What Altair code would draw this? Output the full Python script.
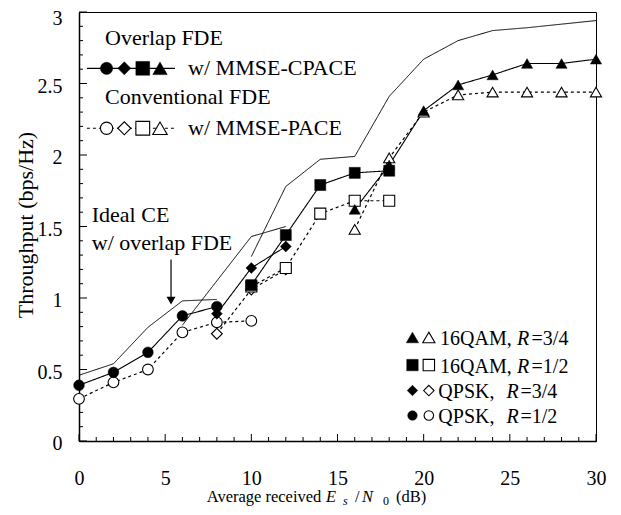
import altair as alt
import pandas as pd

FONT = "Liberation Serif"

# ---------------- data ----------------
MODS = ["QPSK 1/2", "QPSK 3/4", "16QAM 1/2", "16QAM 3/4"]
SHAPES = ["circle", "diamond", "square", "triangle-up"]

# Overlap FDE w/ MMSE-CPACE (filled markers, solid line)
OV_QPSK12_X = [0, 2, 4, 6, 8]
OV_QPSK12_Y = [0.39, 0.48, 0.62, 0.875, 0.94]
OV_QPSK34_X = [8, 10, 12]
OV_QPSK34_Y = [0.89, 1.21, 1.36]
OV_16Q12_X = [10, 12, 14, 16, 18]
OV_16Q12_Y = [1.09, 1.44, 1.79, 1.875, 1.89]
OV_16Q34_X = [16, 18, 20, 22, 24, 26, 28, 30]
OV_16Q34_Y = [1.62, 1.93, 2.31, 2.49, 2.56, 2.64, 2.64, 2.67]

# Conventional FDE w/ MMSE-PACE (open markers, dotted line)
CV_QPSK12_X = [0, 2, 4, 6, 8, 10]
CV_QPSK12_Y = [0.295, 0.41, 0.50, 0.76, 0.83, 0.84]
CV_QPSK34_X = [8, 10, 12]
CV_QPSK34_Y = [0.75, 1.06, 1.20]
CV_16Q12_X = [10, 12, 14, 16, 18]
CV_16Q12_Y = [1.08, 1.21, 1.59, 1.68, 1.68]
CV_16Q34_X = [16, 18, 20, 22, 24, 26, 28, 30]
CV_16Q34_Y = [1.48, 1.98, 2.30, 2.42, 2.44, 2.44, 2.44, 2.44]

# Ideal CE w/ overlap FDE (plain solid lines)
ID_QPSK12_X = [0, 2, 4, 6, 8]
ID_QPSK12_Y = [0.46, 0.54, 0.795, 0.98, 0.99]
ID_QPSK34_X = [6, 8, 10, 12]
ID_QPSK34_Y = [0.81, 1.12, 1.43, 1.50]
ID_16Q12_X = [10, 12, 14, 16]
ID_16Q12_Y = [1.29, 1.78, 1.97, 1.99]
ID_16Q34_X = [16, 18, 20, 22, 24, 26, 28, 30]
ID_16Q34_Y = [1.99, 2.41, 2.67, 2.80, 2.87, 2.89, 2.915, 2.94]

# axis ticks
X_MAJOR = [0, 5, 10, 15, 20, 25, 30]
X_MINOR = [1, 2, 3, 4, 6, 7, 8, 9, 11, 12, 13, 14, 16, 17, 18, 19,
           21, 22, 23, 24, 26, 27, 28, 29]
Y_MAJOR = [0, 0.5, 1, 1.5, 2, 2.5, 3]
Y_MINOR = [0.1, 0.2, 0.3, 0.4, 0.6, 0.7, 0.8, 0.9, 1.1, 1.2, 1.3, 1.4,
           1.6, 1.7, 1.8, 1.9, 2.1, 2.2, 2.3, 2.4, 2.6, 2.7, 2.8, 2.9]

# in-plot legend (top left)
LEG_TOP_LINE_X = [0.46, 5.57]
LEG_TOP_MARK_X = [1.6, 2.63, 3.70, 4.70]
LEG_TOP_ROW_Y = [2.606, 2.187]          # filled row, open row
# bottom-right legend
BR_MODS = ["16QAM 3/4", "16QAM 1/2", "QPSK 3/4", "QPSK 1/2"]
BR_MARK_Y = [0.724, 0.531, 0.353, 0.178]
BR_TEXT_Y = [0.671, 0.478, 0.300, 0.126]
BR_FILLED_X = 19.35
BR_OPEN_X = 20.3
BR_LABEL_A = ["16QAM, ", "16QAM, ", "QPSK, ", "QPSK, "]
BR_LABEL_A_X = [20.95, 20.95, 20.85, 20.85]
BR_LABEL_R_X = [25.41, 25.41, 24.8, 24.8]
BR_LABEL_B = ["=3/4", "=1/2", "=3/4", "=1/2"]
BR_LABEL_B_X = [26.26, 26.26, 25.62, 25.62]

# annotations (top-left text)
ANN_TEXT = ["Overlap FDE", "w/ MMSE-CPACE", "Conventional FDE", "w/ MMSE-PACE",
            "Ideal CE", "w/ overlap FDE"]
ANN_X = [1.51, 6.33, 1.51, 6.33, 0.74, 0.74]
ANN_Y = [2.77, 2.56, 2.36, 2.14, 1.53, 1.336]
ARROW_X = 5.34
ARROW_Y_TOP = 1.27
ARROW_Y_TIP = 0.985

# ---------------- build tables ----------------
SERIES = [
    ("overlap", "QPSK 1/2", OV_QPSK12_X, OV_QPSK12_Y),
    ("overlap", "QPSK 3/4", OV_QPSK34_X, OV_QPSK34_Y),
    ("overlap", "16QAM 1/2", OV_16Q12_X, OV_16Q12_Y),
    ("overlap", "16QAM 3/4", OV_16Q34_X, OV_16Q34_Y),
    ("conv", "QPSK 1/2", CV_QPSK12_X, CV_QPSK12_Y),
    ("conv", "QPSK 3/4", CV_QPSK34_X, CV_QPSK34_Y),
    ("conv", "16QAM 1/2", CV_16Q12_X, CV_16Q12_Y),
    ("conv", "16QAM 3/4", CV_16Q34_X, CV_16Q34_Y),
    ("ideal", "QPSK 1/2", ID_QPSK12_X, ID_QPSK12_Y),
    ("ideal", "QPSK 3/4", ID_QPSK34_X, ID_QPSK34_Y),
    ("ideal", "16QAM 1/2", ID_16Q12_X, ID_16Q12_Y),
    ("ideal", "16QAM 3/4", ID_16Q34_X, ID_16Q34_Y),
]
rows = []
for scheme, mod, xs, ys in SERIES:
    for xv, yv in zip(xs, ys):
        rows.append({"scheme": scheme, "mod": mod, "key": scheme + "|" + mod, "x": xv, "y": yv})
df = pd.DataFrame(rows)

XS = alt.Scale(domain=[0, 30], nice=False, zero=False)
YS = alt.Scale(domain=[0, 3], nice=False, zero=False)

X_AXIS = alt.Axis(values=X_MAJOR, title=None, ticks=False, tickSize=0, grid=False,
                  domain=True, domainColor="black", domainWidth=1.5,
                  labelFont=FONT, labelFontSize=20, labelColor="black",
                  labelPadding=27, labelFlush=False, labelOverlap=False)
Y_AXIS = alt.Axis(values=Y_MAJOR, title=None, ticks=False, tickSize=0, grid=False,
                  domain=True, domainColor="black", domainWidth=1.5,
                  labelFont=FONT, labelFontSize=20, labelColor="black",
                  labelPadding=17, labelFlush=False, labelOverlap=False,
                  labelExpr="'' + datum.value",
                  labelOffset={"condition": {"test": "datum.value >= 3", "value": 6}, "value": 2.5})

shape_enc = alt.Shape("mod:N", scale=alt.Scale(domain=MODS, range=SHAPES), legend=None)
DASH = alt.Scale(domain=["ideal", "overlap", "conv"], range=[[1, 0], [1, 0], [3, 3]])
WIDTH = alt.Scale(domain=["ideal", "overlap", "conv"], range=[1.0, 1.2, 1.6])


def X(f="x"):
    return alt.X(f + ":Q", scale=XS, axis=X_AXIS)


def Y(f="y"):
    return alt.Y(f + ":Q", scale=YS, axis=Y_AXIS)


lines = alt.Chart(df).mark_line(color="black").encode(
    x=X(), y=Y(), detail="key:N",
    strokeDash=alt.StrokeDash("scheme:N", scale=DASH, legend=None),
    strokeWidth=alt.StrokeWidth("scheme:N", scale=WIDTH, legend=None),
)

size_data = alt.Size("mod:N", scale=alt.Scale(domain=MODS, range=[115, 125, 95, 130]), legend=None)

pts_open = alt.Chart(df[df.scheme == "conv"]).mark_point(
    filled=True, fill="white", stroke="black", strokeWidth=1.1, opacity=1
).encode(x=X(), y=Y(), shape=shape_enc, size=size_data)

pts_fill = alt.Chart(df[df.scheme == "overlap"]).mark_point(
    filled=True, fill="black", stroke="black", strokeWidth=0.5, opacity=1
).encode(x=X(), y=Y(), shape=shape_enc, size=size_data)


# ---- ticks (inward) ----
def xticks(vals, length):
    return alt.Chart(pd.DataFrame({"x": vals})).mark_rule(color="black", strokeWidth=1).encode(
        x=X(), y=alt.value(429), y2=alt.value(429 - length))


def yticks(vals, length):
    return alt.Chart(pd.DataFrame({"y": vals})).mark_rule(color="black", strokeWidth=1).encode(
        y=Y(), x=alt.value(0), x2=alt.value(length))


# ---- top-left legend ----
leg_lines = alt.Chart(pd.DataFrame({
    "x": LEG_TOP_LINE_X * 2,
    "y": [LEG_TOP_ROW_Y[0]] * 2 + [LEG_TOP_ROW_Y[1]] * 2,
    "scheme": ["overlap"] * 2 + ["conv"] * 2,
})).mark_line(color="black").encode(
    x=X(), y=Y(), detail="scheme:N",
    strokeDash=alt.StrokeDash("scheme:N", scale=DASH, legend=None),
    strokeWidth=alt.StrokeWidth("scheme:N", scale=WIDTH, legend=None),
)
size_leg = alt.Size("mod:N", scale=alt.Scale(domain=MODS, range=[150, 210, 110, 160]), legend=None)
leg_fill = alt.Chart(pd.DataFrame({"x": LEG_TOP_MARK_X, "y": [LEG_TOP_ROW_Y[0]] * 4, "mod": MODS})).mark_point(
    filled=True, fill="black", stroke="black", strokeWidth=0.5, opacity=1
).encode(x=X(), y=Y(), shape=shape_enc, size=size_leg)
leg_open = alt.Chart(pd.DataFrame({"x": LEG_TOP_MARK_X, "y": [LEG_TOP_ROW_Y[1]] * 4, "mod": MODS})).mark_point(
    filled=True, fill="white", stroke="black", strokeWidth=1.1, opacity=1
).encode(x=X(), y=Y(), shape=shape_enc, size=size_leg)

# ---- bottom-right legend ----
size_br = alt.Size("mod:N", scale=alt.Scale(domain=MODS, range=[90, 150, 100, 140]), legend=None)
br_df = pd.DataFrame({"mod": BR_MODS, "y": BR_MARK_Y})
br_fill = alt.Chart(br_df.assign(x=BR_FILLED_X)).mark_point(
    filled=True, fill="black", stroke="black", strokeWidth=0.5, opacity=1
).encode(x=X(), y=Y(), shape=shape_enc, size=size_br)
br_open = alt.Chart(br_df.assign(x=BR_OPEN_X)).mark_point(
    filled=True, fill="white", stroke="black", strokeWidth=1.1, opacity=1
).encode(x=X(), y=Y(), shape=shape_enc, size=size_br)

br_kw = dict(font=FONT, fontSize=20, color="black", align="left", baseline="alphabetic")
br_a = alt.Chart(pd.DataFrame({"x": BR_LABEL_A_X, "y": BR_TEXT_Y, "t": BR_LABEL_A})).mark_text(**br_kw).encode(
    x=X(), y=Y(), text="t:N")
br_r = alt.Chart(pd.DataFrame({"x": BR_LABEL_R_X, "y": BR_TEXT_Y, "t": ["R"] * 4})).mark_text(
    fontStyle="italic", **br_kw).encode(x=X(), y=Y(), text="t:N")
br_b = alt.Chart(pd.DataFrame({"x": BR_LABEL_B_X, "y": BR_TEXT_Y, "t": BR_LABEL_B})).mark_text(**br_kw).encode(
    x=X(), y=Y(), text="t:N")

# ---- annotations ----
ann_kw = dict(font=FONT, fontSize=22, color="black", align="left", baseline="alphabetic")
ann = alt.Chart(pd.DataFrame({"x": ANN_X, "y": ANN_Y, "t": ANN_TEXT})).mark_text(**ann_kw).encode(
    x=X(), y=Y(), text="t:N")
arrow_line = alt.Chart(pd.DataFrame({"x": [ARROW_X], "y": [ARROW_Y_TOP], "y2": [ARROW_Y_TIP + 0.01]})).mark_rule(
    color="black", strokeWidth=1.2).encode(x=X(), y=Y(), y2="y2:Q")
arrow_head = alt.Chart(pd.DataFrame({"x": [ARROW_X], "y": [ARROW_Y_TIP]})).mark_point(
    shape="triangle-down", filled=True, fill="black", stroke="black", size=30, opacity=1
).encode(x=X(), y=Y())

# ---- axis titles (rich text pieces) ----
ONE = pd.DataFrame({"a": [0]})


def piece(text, px, py, size, italic=False, angle=0, align="left"):
    kw = dict(font=FONT, fontSize=size, color="black", align=align, baseline="alphabetic")
    if italic:
        kw["fontStyle"] = "italic"
    if angle:
        kw["angle"] = angle
    return alt.Chart(ONE).mark_text(**kw).encode(
        x=alt.value(px), y=alt.value(py), text=alt.value(text))


title_pieces = [
    piece("Average received", 127.7, 490, 16.5),
    piece("E", 247, 490, 16.5, italic=True),
    piece("s", 264, 492.5, 12, italic=True),
    piece("/", 276, 490, 16.5),
    piece("N", 283, 490, 16.5, italic=True),
    piece("0", 304, 492.5, 12),
    piece("(dB)", 317, 490, 16.5),
    piece("Throughput (bps/Hz)", -46, 213, 22, angle=270, align="center"),
]

layers = [lines,
          xticks(X_MINOR, 4), xticks(X_MAJOR, 7), yticks(Y_MINOR, 4), yticks(Y_MAJOR, 8),
          pts_open, pts_fill,
          leg_lines, leg_fill, leg_open, br_fill, br_open, br_a, br_r, br_b,
          ann, arrow_line, arrow_head] + title_pieces

chart = alt.layer(*layers).resolve_scale(size="independent").properties(
    width=517, height=429,
    autosize=alt.AutoSizeParams(type="none"),
    padding={"left": 71, "top": 4, "right": 12, "bottom": 70},
).configure_view(stroke="black", strokeWidth=1)

chart.save("out.html", embed_options={"renderer": "svg", "actions": False})
